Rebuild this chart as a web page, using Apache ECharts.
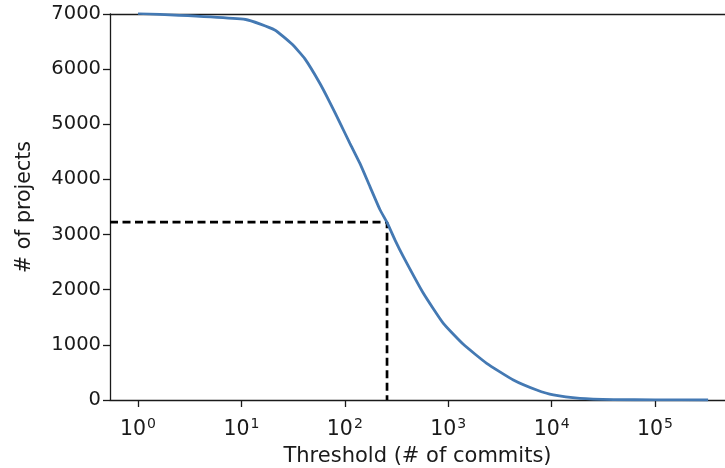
<!DOCTYPE html>
<html>
<head>
<meta charset="utf-8">
<script src="https://cdn.jsdelivr.net/npm/echarts@6/dist/echarts.min.js"></script>
<style>
  html, body { margin: 0; padding: 0; background: #fff; }
  #chart { width: 725px; height: 468px; }
</style>
</head>
<body>
<div id="chart"></div>
<script>
// thresholds (# of commits) and remaining projects
const thresholds = [1, 11, 21, 31, 41, 57.5, 72, 90, 112, 140, 175, 219, 256, 306, 368, 575, 897, 1400, 2355, 4265, 7180, 10400, 18800, 40000, 100000, 326000];
const projects = [7010, 6900, 6710, 6450, 6190, 5740, 5390, 5020, 4655, 4290, 3870, 3450, 3220, 2900, 2600, 1935, 1390, 1010, 665, 363, 181, 91, 30, 8, 2, 0];

// cut-off marker
const cutX = 256;
const cutY = 3225;

const xMin = 0.536;
const xMax = 475000;

const font = "DejaVu Sans";
const ink = "#1a1a1a";

document.addEventListener("DOMContentLoaded", () => {
  const chart = echarts.init(document.getElementById("chart"));

  const option = {
    animation: false,
    textStyle: { fontFamily: font, color: ink },
    grid: { left: 110, top: 14, right: 0, bottom: 68, outerBoundsMode: "none", containLabel: false },

    xAxis: [
      {
        type: "log",
        logBase: 10,
        min: xMin,
        max: xMax,
        name: "Threshold (# of commits)",
        nameLocation: "middle",
        nameGap: 46,
        nameTextStyle: { fontSize: 21, color: ink, fontFamily: font },
        axisLine: { lineStyle: { color: ink, width: 1.3 } },
        axisTick: { inside: false, length: 7, lineStyle: { color: ink, width: 1.3 } },
        splitLine: { show: false },
        minorTick: { show: false },
        axisLabel: {
          showMinLabel: false,
          showMaxLabel: false,
          margin: 17,
          formatter: (v) => "{b|10}{s|" + Math.round(Math.log10(v)) + "}",
          rich: {
            b: { fontSize: 20.5, fontFamily: font, color: ink },
            s: { fontSize: 14, fontFamily: font, color: ink, verticalAlign: "top", padding: [0, 0, 11, 1] }
          }
        }
      },
      {
        type: "value",
        position: "top",
        min: 0,
        max: 1,
        axisLine: { show: true, onZero: false, lineStyle: { color: ink, width: 1.3 } },
        axisTick: { show: false },
        axisLabel: { show: false },
        splitLine: { show: false }
      }
    ],

    yAxis: {
      type: "value",
      min: 0,
      max: 7000,
      interval: 1000,
      name: "# of projects",
      nameLocation: "middle",
      nameGap: 75,
      nameTextStyle: { fontSize: 20.5, color: ink, fontFamily: font },
      axisLine: { show: true, lineStyle: { color: ink, width: 1.3 } },
      axisTick: { show: true, length: 7, lineStyle: { color: ink, width: 1.3 } },
      splitLine: { show: false },
      axisLabel: {
        fontSize: 19.5,
        color: ink,
        fontFamily: font,
        margin: 9,
        formatter: (v) => String(v)
      }
    },

    series: [
      {
        type: "line",
        data: thresholds.map((t, i) => [t, projects[i]]),
        smooth: 0.15,
        showSymbol: false,
        lineStyle: { color: "#4479b3", width: 2.8 },
        z: 3
      },
      {
        type: "line",
        data: [[xMin, cutY], [cutX, cutY], [cutX, 0]],
        showSymbol: false,
        lineStyle: { color: "#000", width: 2.7, type: [8, 4.5] },
        z: 2
      }
    ]
  };

  chart.setOption(option);
  window.addEventListener("resize", () => chart.resize());
});
</script>
</body>
</html>
